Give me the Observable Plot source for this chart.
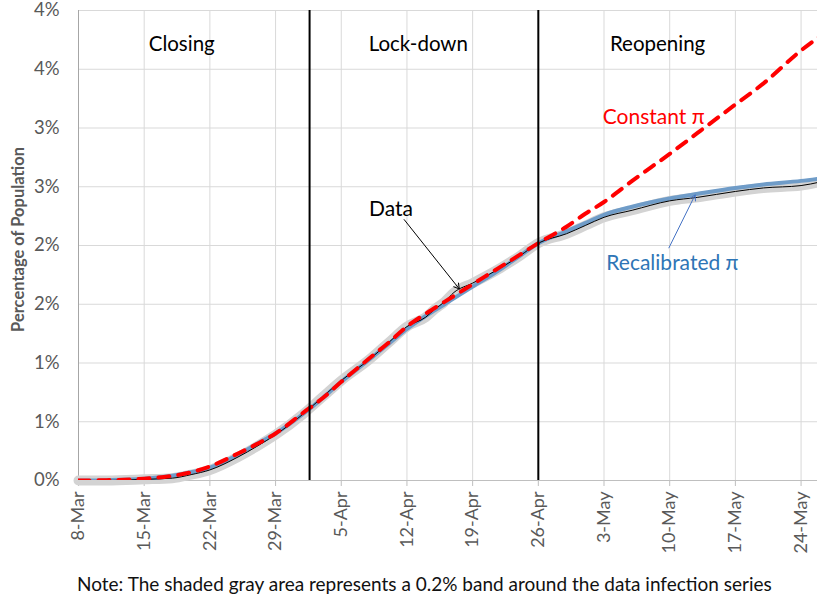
<!DOCTYPE html>
<html>
<head>
<meta charset="utf-8">
<script src="https://cdn.jsdelivr.net/npm/d3@7"></script>
<script src="https://cdn.jsdelivr.net/npm/@observablehq/plot@0.6"></script>
<style>
  html, body { margin: 0; padding: 0; background: #fff; overflow: hidden; }
  body { width: 817px; height: 598px; font-family: Lato, "Open Sans", sans-serif; }
  #note { font-size: 19px; line-height: 22px; color: #111; margin: 13px 0 0 77px; white-space: nowrap; }
</style>
</head>
<body>
<div id="chart"></div>
<div id="note">Note: The shaded gray area represents a 0.2% band around the data infection series</div>
<script>
// ---- Data ----
const dates = ["2020-03-08","2020-03-11","2020-03-15","2020-03-18","2020-03-20","2020-03-22","2020-03-25","2020-03-27","2020-03-29","2020-04-01","2020-04-03","2020-04-05","2020-04-08","2020-04-10","2020-04-12","2020-04-14","2020-04-15","2020-04-16","2020-04-17","2020-04-19","2020-04-22","2020-04-24","2020-04-26","2020-04-29","2020-05-01","2020-05-03","2020-05-06","2020-05-10","2020-05-13","2020-05-17","2020-05-20","2020-05-24","2020-05-26"];
const dataSeries   = [0,0,0.01,0.02,0.05,0.09,0.20,0.29,0.39,0.57,0.71,0.85,1.03,1.17,1.31,1.39,1.46,1.52,1.60,1.68,1.81,1.91,2.02,2.10,2.17,2.24,2.30,2.38,2.41,2.46,2.49,2.51,2.54];
const recalibrated = [0,0.003,0.015,0.04,0.07,0.11,0.22,0.31,0.40,0.57,0.70,0.84,1.03,1.16,1.29,1.40,1.45,1.50,1.55,1.65,1.80,1.91,2.02,2.12,2.19,2.26,2.33,2.40,2.44,2.49,2.52,2.55,2.57];
const constantPi   = [0,0.003,0.015,0.04,0.07,0.12,0.23,0.31,0.40,0.58,0.70,0.84,1.04,1.17,1.31,1.42,1.47,1.52,1.57,1.67,1.82,1.92,2.02,2.16,2.27,2.37,2.55,2.78,2.96,3.20,3.38,3.66,3.78];

const xTicks = ["2020-03-08","2020-03-15","2020-03-22","2020-03-29","2020-04-05","2020-04-12","2020-04-19","2020-04-26","2020-05-03","2020-05-10","2020-05-17","2020-05-24"];
const yTicks = [0,0.5,1,1.5,2,2.5,3,3.5,4];
const xDomain = ["2020-03-08","2020-05-25T18:00Z"];
const yDomain = [0,4];
const monthNames = ["Jan","Feb","Mar","Apr","May","Jun","Jul","Aug","Sep","Oct","Nov","Dec"];

const phaseLines = ["2020-04-01T15:00Z","2020-04-26"];
const phaseNames = ["Closing","Lock-down","Reopening"];
const phaseNameDates = ["2020-03-19T00:00Z","2020-04-13T05:00Z","2020-05-08T17:00Z"];
const phaseNameLevel = 3.71;

const seriesLabels = ["Constant π","Data","Recalibrated π"];
const seriesLabelDates = ["2020-05-08T07:00Z","2020-04-10T07:00Z","2020-05-10T07:00Z"];
const seriesLabelLevels = [3.09, 2.31, 1.85];
const seriesLabelColors = ["#ff0000","#000000","#2e75b6"];

const arrowFromDates = ["2020-04-11T17:00Z","2020-05-09T22:00Z"];
const arrowFromLevels = [2.22, 1.98];
const arrowToDates = ["2020-04-17T14:00Z","2020-05-12T17:00Z"];
const arrowToLevels = [1.63, 2.43];
const arrowColors = ["#000000","#4472c4"];

const yTitle = "Percentage of Population";

// ---- Build tables ----
const rows = dates.map((d, i) => ({date: new Date(d), data: dataSeries[i], recal: recalibrated[i], constant: constantPi[i]}));
const D = s => new Date(s);
const phaseLabelRows = phaseNames.map((t, i) => ({t, x: D(phaseNameDates[i]), y: phaseNameLevel}));
const seriesLabelRows = seriesLabels.map((t, i) => ({t, x: D(seriesLabelDates[i]), y: seriesLabelLevels[i], c: seriesLabelColors[i]}));
const arrowRows = arrowFromDates.map((d, i) => ({x1: D(d), y1: arrowFromLevels[i], x2: D(arrowToDates[i]), y2: arrowToLevels[i], c: arrowColors[i]}));
const fmtX = d => `${d.getUTCDate()}-${monthNames[d.getUTCMonth()]}`;

const chart = Plot.plot({
  width: 817,
  height: 560,
  marginLeft: 78,
  marginRight: 0,
  marginTop: 10,
  marginBottom: 80,
  style: {fontFamily: "Lato, 'Open Sans', sans-serif", background: "#fff", color: "#000", overflow: "visible"},
  x: {type: "utc", domain: xDomain.map(D), axis: null},
  y: {domain: yDomain, axis: null},
  marks: [
    Plot.gridY(yTicks, {stroke: "#d9d9d9", strokeOpacity: 1}),
    Plot.gridX(xTicks.map(D), {stroke: "#d9d9d9", strokeOpacity: 1}),
    Plot.axisX(xTicks.map(D), {tickSize: 6, tickFormat: () => "", stroke: "#bfbfbf", label: null}),
    Plot.axisX(xTicks.map(D), {tickSize: 0, tickPadding: 11, tickRotate: -90, tickFormat: fmtX, fill: "#595959", fontSize: 18, label: null}),
    Plot.axisY(yTicks, {tickSize: 0, tickPadding: 19, tickFormat: d => Math.round(d) + "%", fill: "#595959", fontSize: 18.5, label: null}),
    Plot.ruleY([0], {stroke: "#bfbfbf"}),
    Plot.ruleX([D(xDomain[0])], {stroke: "#a6a6a6"}),
    Plot.line(rows, {x: "date", y: "data", stroke: "#d3d3d3", strokeWidth: 10, curve: "monotone-x"}),
    Plot.line(rows, {x: "date", y: "recal", stroke: "#6f9cc8", strokeWidth: 4, curve: "monotone-x", clip: true}),
    Plot.line(rows, {x: "date", y: "data", stroke: "#000", strokeWidth: 1, curve: "monotone-x", clip: true}),
    Plot.line(rows, {x: "date", y: "constant", stroke: "#ff0000", strokeWidth: 4, strokeDasharray: "11,9", strokeLinecap: "round", curve: "monotone-x", clip: true}),
    Plot.ruleX(phaseLines.map(D), {stroke: "#000", strokeWidth: 2}),
    Plot.text(phaseLabelRows, {x: "x", y: "y", text: "t", fontSize: 20.5, fill: "#000"}),
    Plot.text(seriesLabelRows, {x: "x", y: "y", text: "t", fontSize: 21, fill: "c"}),
    Plot.arrow(arrowRows, {x1: "x1", y1: "y1", x2: "x2", y2: "y2", stroke: "c", strokeWidth: 1, headLength: 9}),
    Plot.text([yTitle], {text: d => d, frameAnchor: "left", textAnchor: "middle", dx: -60, dy: -6, rotate: -90, fontSize: 16.5, fontWeight: "bold", fill: "#595959"})
  ]
});
document.getElementById("chart").appendChild(chart);
</script>
</body>
</html>
